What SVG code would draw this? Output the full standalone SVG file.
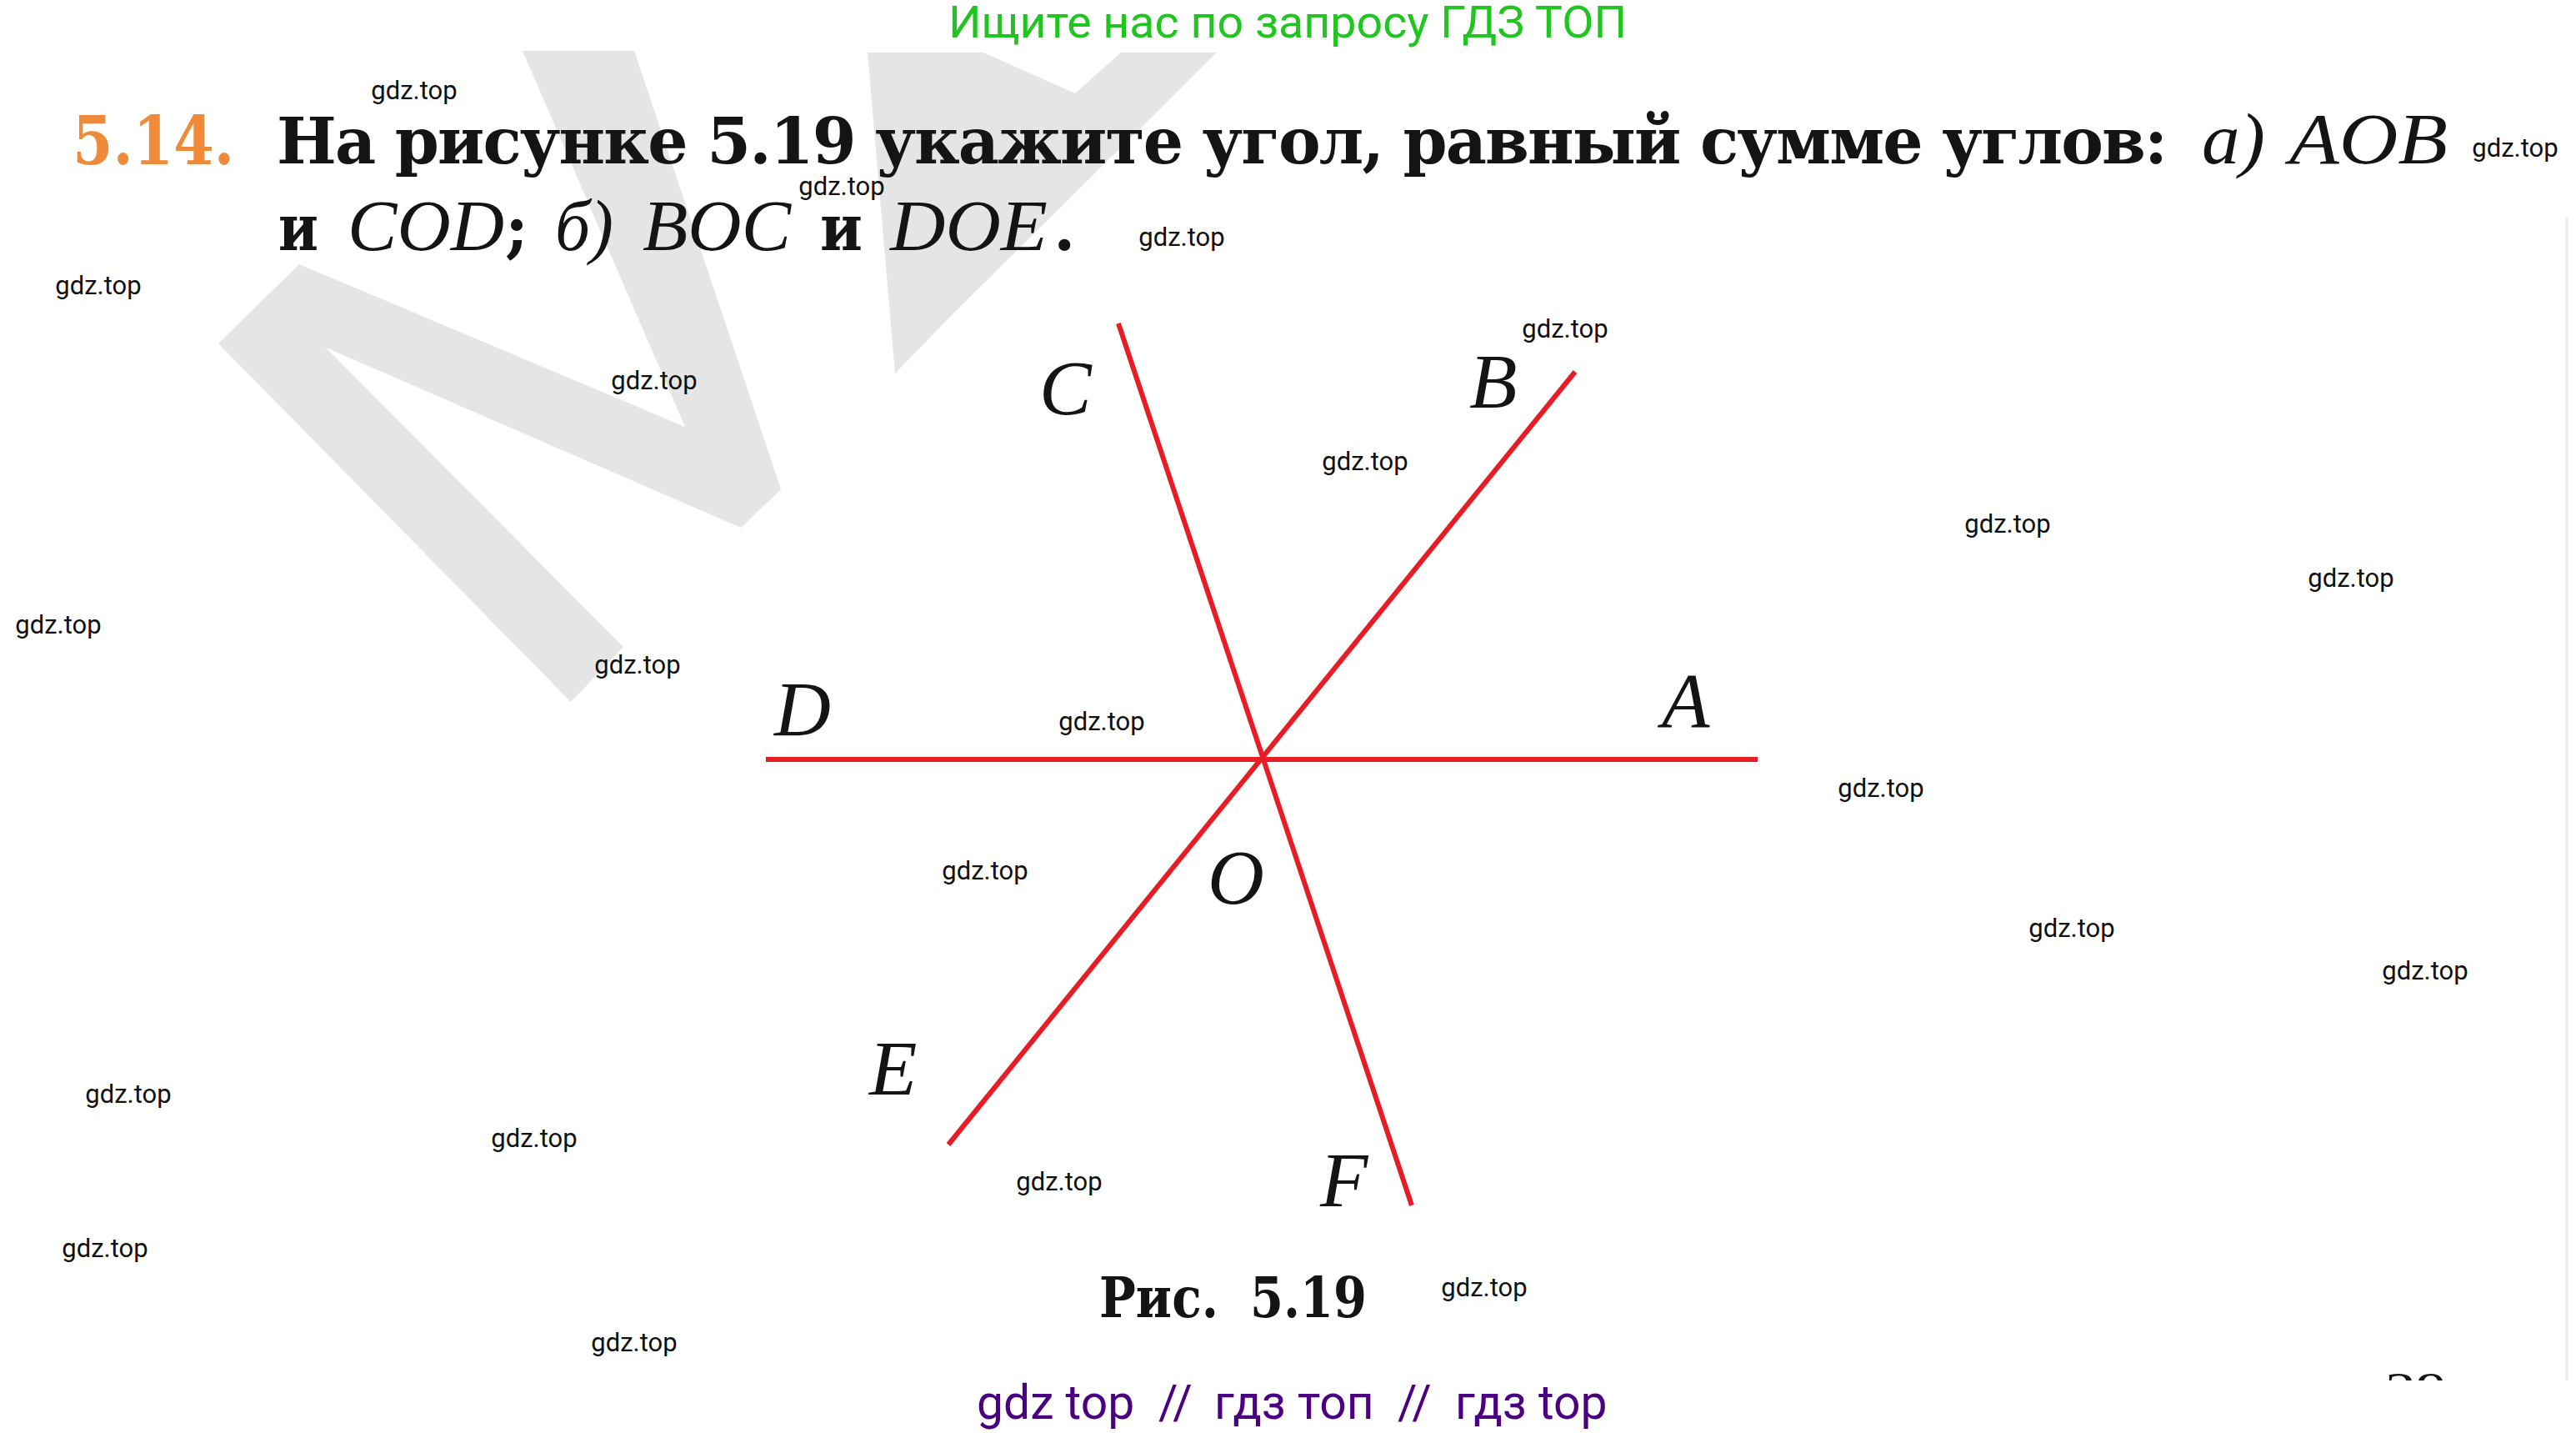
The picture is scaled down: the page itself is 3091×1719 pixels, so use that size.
<svg xmlns="http://www.w3.org/2000/svg" width="3091" height="1719" viewBox="0 0 3091 1719">
<defs>
<style>
.ttl{font-family:"DejaVu Serif","Liberation Serif",serif;font-weight:bold;font-size:76px;fill:#141414}
.mi{font-family:"Liberation Serif",serif;font-style:italic;font-size:86px;fill:#141414}
.lbl{font-family:"Liberation Serif",serif;font-style:italic;font-size:94px;fill:#141414}
.wm{font-family:Roboto,"Liberation Sans",sans-serif;font-size:31px;fill:#111;text-anchor:middle}
.ray{stroke:#e81c24;stroke-width:6;fill:none;stroke-linecap:butt}
.cap{font-family:"DejaVu Serif","Liberation Serif",serif;font-weight:bold;font-size:68px;fill:#141414}
.foot{font-family:Roboto,"Liberation Sans",sans-serif;font-size:57px;fill:#4b0082}
</style>
<clipPath id="pageclip"><rect x="0" y="0" width="3091" height="1656"/></clipPath>
</defs>
<rect x="0" y="0" width="3091" height="1719" fill="#ffffff"/>

<g id="watermark-logo" fill="#e5e5e5">
<polygon points="359,317 822,512 627,61 761,61 937,587 889,633 391,417 748,776 685,842 262,412"/>
<polygon points="1041,63 1180,63 1290,112 1345,63 1460,63 1140,380 1074,448"/>
</g>
<line x1="3080" y1="260" x2="3080" y2="1656" stroke="#ececec" stroke-width="3"/>

<text id="top-banner" x="1138" y="45" font-family="Roboto,'Liberation Sans',sans-serif" font-size="53" fill="#20c520" textLength="814" lengthAdjust="spacingAndGlyphs">Ищите нас по запросу ГДЗ ТОП</text>

<g id="problem-text">
<text x="87" y="197" font-family="'DejaVu Serif','Liberation Serif',serif" font-weight="bold" font-size="80" fill="#ee8a3a" textLength="194" lengthAdjust="spacingAndGlyphs">5.14.</text>
<text class="ttl" x="332" y="196" textLength="2269" lengthAdjust="spacing">На рисунке 5.19 укажите угол, равный сумме углов:</text>
<text class="mi" x="2642" y="196" textLength="76" lengthAdjust="spacingAndGlyphs">а)</text>
<text class="mi" x="2747" y="196" textLength="190" lengthAdjust="spacingAndGlyphs">AOB</text>
<text class="ttl" x="334" y="300" textLength="48" lengthAdjust="spacingAndGlyphs">и</text>
<text class="mi" x="417" y="300" textLength="188" lengthAdjust="spacingAndGlyphs">COD</text>
<text class="ttl" x="606" y="300">;</text>
<text class="mi" x="666" y="300" textLength="70" lengthAdjust="spacingAndGlyphs">б)</text>
<text class="mi" x="771" y="300" textLength="178" lengthAdjust="spacingAndGlyphs">BOC</text>
<text class="ttl" x="984" y="300" textLength="51" lengthAdjust="spacingAndGlyphs">и</text>
<text class="mi" x="1068" y="300" textLength="189" lengthAdjust="spacingAndGlyphs">DOE</text>
<text class="ttl" x="1264" y="300">.</text>
</g>

<g id="connectors">
<line class="ray" x1="919" y1="911" x2="2109" y2="911" stroke-width="7"/>
<line class="ray" x1="1342" y1="388" x2="1694" y2="1446"/>
<line class="ray" x1="1890" y1="446" x2="1138" y2="1373"/>
</g>

<g id="node-C"><text class="lbl" x="1247" y="497">C</text></g>
<g id="node-B"><text class="lbl" x="1763" y="489">B</text></g>
<g id="node-D"><text class="lbl" x="929" y="882">D</text></g>
<g id="node-A"><text class="lbl" x="1994" y="872">A</text></g>
<g id="node-O"><text class="lbl" x="1449" y="1084">O</text></g>
<g id="node-E"><text class="lbl" x="1043" y="1313">E</text></g>
<g id="node-F"><text class="lbl" x="1584" y="1447">F</text></g>

<g id="caption">
<text class="cap" x="1319" y="1580" textLength="143" lengthAdjust="spacingAndGlyphs">Рис.</text>
<text class="cap" x="1500" y="1580" textLength="140" lengthAdjust="spacingAndGlyphs">5.19</text>
</g>

<g id="page-number" clip-path="url(#pageclip)">
<text x="2862" y="1686" font-family="'Liberation Serif',serif" font-size="58" fill="#141414" textLength="74" lengthAdjust="spacingAndGlyphs">29</text>
</g>

<g id="watermarks">
<text class="wm" x="497" y="119">gdz.top</text>
<text class="wm" x="1010" y="234">gdz.top</text>
<text class="wm" x="3018" y="188">gdz.top</text>
<text class="wm" x="1418" y="295">gdz.top</text>
<text class="wm" x="118" y="353">gdz.top</text>
<text class="wm" x="1878" y="405">gdz.top</text>
<text class="wm" x="785" y="467">gdz.top</text>
<text class="wm" x="1638" y="564">gdz.top</text>
<text class="wm" x="2409" y="639">gdz.top</text>
<text class="wm" x="2821" y="704">gdz.top</text>
<text class="wm" x="70" y="760">gdz.top</text>
<text class="wm" x="765" y="808">gdz.top</text>
<text class="wm" x="1322" y="876">gdz.top</text>
<text class="wm" x="2257" y="956">gdz.top</text>
<text class="wm" x="1182" y="1055">gdz.top</text>
<text class="wm" x="2486" y="1124">gdz.top</text>
<text class="wm" x="2910" y="1175">gdz.top</text>
<text class="wm" x="154" y="1323">gdz.top</text>
<text class="wm" x="641" y="1376">gdz.top</text>
<text class="wm" x="1271" y="1428">gdz.top</text>
<text class="wm" x="1781" y="1555">gdz.top</text>
<text class="wm" x="126" y="1508">gdz.top</text>
<text class="wm" x="761" y="1621">gdz.top</text>
</g>

<g id="footer">
<text class="foot" x="1172" y="1702">gdz top</text>
<text class="foot" x="1390" y="1702">//</text>
<text class="foot" x="1457" y="1702">гдз топ</text>
<text class="foot" x="1677" y="1702">//</text>
<text class="foot" x="1746" y="1702">гдз top</text>
</g>
</svg>
